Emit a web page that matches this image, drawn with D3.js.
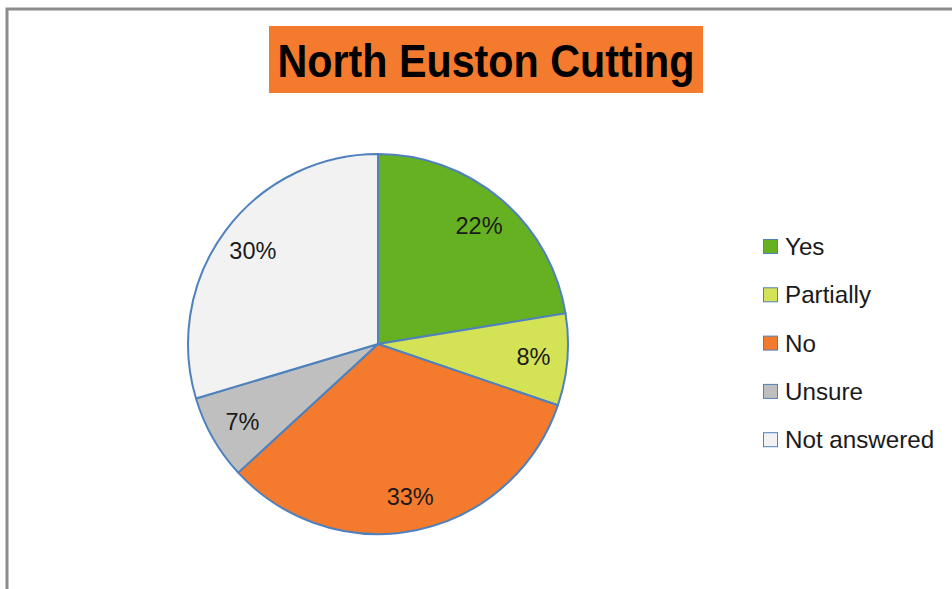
<!DOCTYPE html>
<html>
<head>
<meta charset="utf-8">
<script src="https://cdn.jsdelivr.net/npm/d3@7"></script>
<style>
  body { margin: 0; background: #fff; }
  svg { display: block; }
  text { font-family: "Liberation Sans", Arial, sans-serif; }
</style>
</head>
<body>
<svg id="chart" width="952" height="589"></svg>
<script>
// chart data
var title = "North Euston Cutting";
var categories = ["Yes", "Partially", "No", "Unsure", "Not answered"];
var values = [22.4, 7.8, 32.9, 7.2, 29.6];
var colors = ["#65b121", "#d4e256", "#f47a2d", "#bfbfbf", "#f2f2f2"];

var svg = d3.select("#chart");
var W = 952, H = 589;

//Outer frame (only left and top edges are visible)
svg.append("path")
  .attr("d", "M7," + H + "V9H" + W)
  .attr("fill", "none")
  .attr("stroke", "#8c8c8c")
  .attr("stroke-width", 3);

//Title box
svg.append("rect")
  .attr("x", 269).attr("y", 26)
  .attr("width", 434).attr("height", 67)
  .attr("fill", "#f47a2e");

//title text, stretched a bit vertically to look like the narrower original face
var tg = svg.append("g").attr("transform", "translate(486,77) scale(1,1.13)");
var t = tg.append("text")
  .attr("x", 0).attr("y", 0)
  .attr("text-anchor", "middle")
  .attr("font-weight", "bold")
  .attr("font-size", 40)
  .attr("fill", "#000")
  .text(title);
//fit title to box width
var tw = t.node().getComputedTextLength();
t.attr("font-size", 40 * 417 / tw);

//Pie
var cx = 378, cy = 344, R = 190;
var total = d3.sum(values);
var pie = d3.pie().sort(null).value(function(d) { return d; });
var arcs = pie(values);
var arc = d3.arc().innerRadius(0).outerRadius(R);
var labelArc = d3.arc().innerRadius(156).outerRadius(156);

var g = svg.append("g").attr("transform", "translate(" + cx + "," + cy + ")");

g.selectAll("path.slice")
  .data(arcs)
  .enter().append("path")
  .attr("class", "slice")
  .attr("d", arc)
  .attr("fill", function(d, i) { return colors[i]; })
  .attr("stroke", "#4f81bd")
  .attr("stroke-width", 2)
  .attr("stroke-linejoin", "round");

g.selectAll("text.lbl")
  .data(arcs)
  .enter().append("text")
  .attr("class", "lbl")
  .attr("transform", function(d) { return "translate(" + labelArc.centroid(d) + ")"; })
  .attr("text-anchor", "middle")
  .attr("dy", "0.36em")
  .attr("font-size", 23.5)
  .attr("fill", "#1a1a1a")
  .text(function(d) { return Math.round(d.value / total * 100) + "%"; });

//Legend
var legend = svg.append("g").attr("transform", "translate(763,239)");
var item = legend.selectAll("g")
  .data(categories)
  .enter().append("g")
  .attr("transform", function(d, i) { return "translate(0," + (i * 48.3) + ")"; });

item.append("rect")
  .attr("x", 0.5).attr("y", 0.5)
  .attr("width", 14).attr("height", 14)
  .attr("fill", function(d, i) { return colors[i]; })
  .attr("stroke", "#4f81bd")
  .attr("stroke-width", 1);

item.append("text")
  .attr("x", 22).attr("y", 16)
  .attr("font-size", 24.2)
  .attr("fill", "#1a1a1a")
  .text(function(d) { return d; });
</script>
</body>
</html>
